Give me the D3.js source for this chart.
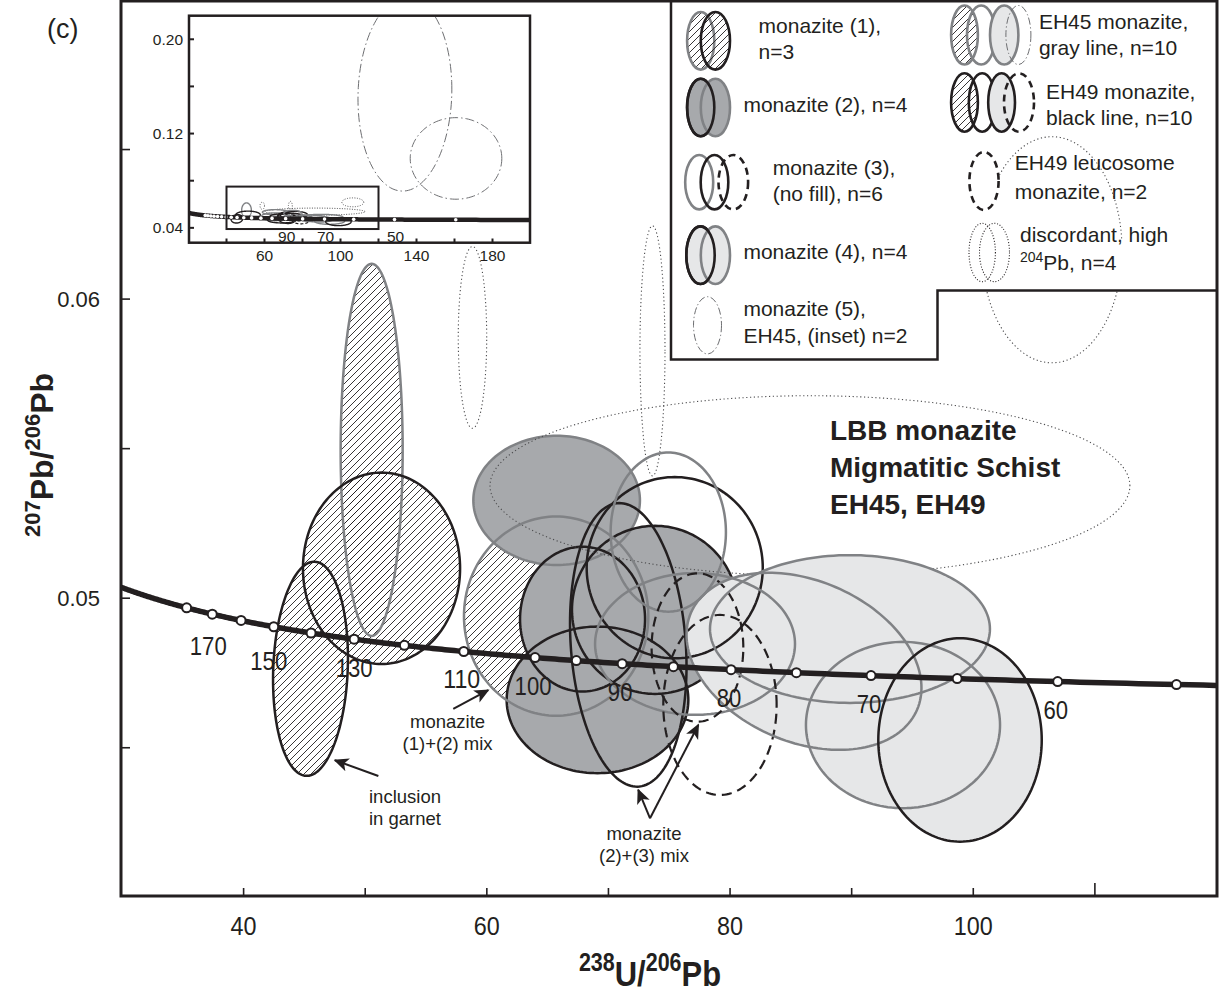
<!DOCTYPE html>
<html>
<head>
<meta charset="utf-8">
<script src="https://cdn.jsdelivr.net/npm/d3@7"></script>
<style>
  body { margin: 0; background: #fff; }
  svg { display: block; }
  text { font-family: "Liberation Sans", Arial, Helvetica, sans-serif; fill: #231f20; }
</style>
</head>
<body>
<svg id="chart" width="1219" height="993"></svg>
<script>
// ---- decay constants for the Tera-Wasserburg concordia ----
const LAMBDA238 = 1.55125e-4;   // per Ma
const LAMBDA235 = 9.8485e-4;    // per Ma
const U_RATIO = 137.88;         // 238U/235U

// ---- concordia age marks (Ma) ----
const concordiaAges = [180, 170, 160, 150, 140, 130, 120, 110, 100, 95, 90, 85, 80, 75, 70, 65, 60, 55];
const ageLabels = [170, 150, 130, 110, 100, 90, 80, 70, 60];
const insetAges = [40, 50, 60, 70, 80, 90, 100, 110, 120, 130, 140, 150, 160, 170, 180, 190, 200, 210, 220];
const insetAgeLabels = [90, 70, 50];

// ---- axis ticks ----
const xTicks = [40, 50, 60, 70, 80, 90, 100, 110];
const xTickLabels = [40, 60, 80, 100];
const yTicks = [0.045, 0.05, 0.055, 0.06, 0.065];
const yTickLabels = [0.05, 0.06];
const insetXTicks = [40, 60, 80, 100, 120, 140, 160, 180];
const insetXTickLabels = [60, 100, 140, 180];
const insetYTicks = [0.04, 0.08, 0.12, 0.16, 0.20];
const insetYTickLabels = [0.04, 0.12, 0.20];

// ---- error ellipses: centre (x = 238U/206Pb, y = 207Pb/206Pb), half-extents, correlation ----
const monazite1 = [
  { sample: "EH45", x: 50.53, y: 0.05496, ex: 2.55, ey: 0.00622, rho: 0 },
  { sample: "EH49", x: 51.34, y: 0.05100, ex: 6.46, ey: 0.00320, rho: 0 },
  { sample: "EH49", x: 45.50, y: 0.04764, ex: 3.08, ey: 0.00358, rho: 0.1 }
];
const mix12 = [
  { sample: "EH45", x: 65.70, y: 0.04940, ex: 7.58, ey: 0.00333, rho: 0 }
];
const monazite2 = [
  { sample: "EH45", x: 65.74, y: 0.05327, ex: 6.85, ey: 0.00216, rho: 0 },
  { sample: "EH49", x: 67.87, y: 0.04930, ex: 5.14, ey: 0.00242, rho: 0 },
  { sample: "EH49", x: 69.10, y: 0.04660, ex: 7.47, ey: 0.00245, rho: 0 },
  { sample: "EH49", x: 73.83, y: 0.04961, ex: 6.83, ey: 0.00281, rho: 0 }
];
const monazite3 = [
  { sample: "EH49", x: 71.63, y: 0.04844, ex: 4.79, ey: 0.00474, rho: -0.15 },
  { sample: "EH49", x: 75.45, y: 0.05102, ex: 7.24, ey: 0.00303, rho: 0 },
  { sample: "EH45", x: 74.92, y: 0.05221, ex: 4.74, ey: 0.00266, rho: 0 },
  { sample: "EH45", x: 77.12, y: 0.04847, ex: 8.22, ey: 0.00237, rho: 0 }
];
const leucosome = [
  { sample: "EH49", x: 77.32, y: 0.04835, ex: 3.77, ey: 0.00248, rho: 0 },
  { sample: "EH49", x: 79.17, y: 0.04643, ex: 4.66, ey: 0.00301, rho: 0 }
];
const monazite4 = [
  { sample: "EH45", x: 89.86, y: 0.04897, ex: 11.51, ey: 0.00247, rho: 0 },
  { sample: "EH45", x: 86.08, y: 0.04789, ex: 9.66, ey: 0.00296, rho: -0.3 },
  { sample: "EH45", x: 94.22, y: 0.04576, ex: 7.98, ey: 0.00278, rho: 0 },
  { sample: "EH49", x: 98.91, y: 0.04526, ex: 6.72, ey: 0.00340, rho: 0 }
];
const monazite5 = [
  { sample: "EH45", x: 133.9, y: 0.1536, ex: 24.7, ey: 0.0824, rho: 0.05 },
  { sample: "EH45", x: 160.8, y: 0.0989, ex: 24.1, ey: 0.0346, rho: 0 }
];
const discordant = [
  { sample: "EH49", x: 58.82, y: 0.05872, ex: 1.17, ey: 0.00304, rho: 0 },
  { sample: "EH49", x: 73.62, y: 0.05827, ex: 1.03, ey: 0.00418, rho: 0 },
  { sample: "EH45", x: 86.57, y: 0.05376, ex: 26.31, ey: 0.00301, rho: 0 },
  { sample: "EH45", x: 106.47, y: 0.06165, ex: 5.76, ey: 0.00378, rho: 0 }
];

// ---- palette ----
const BLACK = "#231f20";
const STROKE = { EH45: "#808285", EH49: BLACK };
const DARK_FILL = "#a7a9ac";
const LIGHT_FILL = "#e6e7e8";

const svg = d3.select("#chart");
const defs = svg.append("defs");

defs.append("pattern")
  .attr("id", "hatch").attr("patternUnits", "userSpaceOnUse")
  .attr("width", 7).attr("height", 7)
  .append("path")
  .attr("d", "M-1,1 L1,-1 M0,7 L7,0 M6,8 L8,6")
  .attr("stroke", BLACK).attr("stroke-width", 0.9);

defs.append("clipPath").attr("id", "plotClip")
  .append("rect").attr("x", 122).attr("y", 1).attr("width", 1094).attr("height", 894);

defs.append("marker").attr("id", "arrowHead")
  .attr("viewBox", "0 0 10 10").attr("refX", 9).attr("refY", 5)
  .attr("markerWidth", 15).attr("markerHeight", 15).attr("markerUnits", "userSpaceOnUse")
  .attr("orient", "auto")
  .append("path").attr("d", "M0,0.5 L10,5 L0,9.5 L2.5,5 Z").attr("fill", BLACK);

// ---- main scales ----
const x = d3.scaleLinear().domain([30, 120]).range([122, 1216.5]);
const y = d3.scaleLinear().domain([0.04, 0.07]).range([897.3, 0]);

function concordia(t) {
  const a = Math.expm1(LAMBDA238 * t);
  const b = Math.expm1(LAMBDA235 * t);
  return [1 / a, b / a / U_RATIO];
}

function ellipsePath(e, sx, sy) {
  const pts = [];
  const s = Math.sqrt(1 - e.rho * e.rho);
  const n = 160;
  for (let i = 0; i < n; i++) {
    const t = (i / n) * 2 * Math.PI;
    pts.push([sx(e.x + e.ex * Math.cos(t)), sy(e.y + e.ey * (e.rho * Math.cos(t) + s * Math.sin(t)))]);
  }
  return d3.line().curve(d3.curveLinearClosed)(pts);
}

const plot = svg.append("g").attr("clip-path", "url(#plotClip)");

function drawEllipses(g, data, opts) {
  return g.selectAll(null).data(data).join("path")
    .attr("d", d => ellipsePath(d, opts.sx || x, opts.sy || y))
    .attr("fill", opts.fill || "none")
    .attr("stroke", opts.stroke === false ? "none" : (d => opts.strokeColor || STROKE[d.sample]))
    .attr("stroke-width", opts.width || 2.5)
    .attr("stroke-dasharray", opts.dash || null);
}

// 1. hatched fills
drawEllipses(plot, mix12, { fill: "url(#hatch)", stroke: false });
drawEllipses(plot, monazite1, { fill: "url(#hatch)", stroke: false });
// 2. dark grey fills and outlines
drawEllipses(plot, monazite2, { fill: DARK_FILL, stroke: false });
drawEllipses(plot, monazite2, {});
// 3. discordant analyses (dotted)
drawEllipses(plot, discordant, { strokeColor: "#4d4d4f", width: 1.1, dash: "1.2,2.6" });
// 4. light grey fills
drawEllipses(plot, monazite4, { fill: LIGHT_FILL, stroke: false });
// 5. outlines on top
drawEllipses(plot, mix12, {});
drawEllipses(plot, monazite1, {});
drawEllipses(plot, monazite3, {});
drawEllipses(plot, leucosome, { width: 2.2, dash: "10,6" });
drawEllipses(plot, monazite4, {});

// 6. concordia with age marks
const curvePts = d3.range(45, 260, 0.5).map(concordia);
plot.append("path")
  .attr("d", d3.line().x(d => x(d[0])).y(d => y(d[1]))(curvePts))
  .attr("fill", "none").attr("stroke", BLACK).attr("stroke-width", 5.5).attr("stroke-linejoin", "round");

plot.selectAll(null).data(concordiaAges).join("circle")
  .attr("cx", t => x(concordia(t)[0])).attr("cy", t => y(concordia(t)[1]))
  .attr("r", 4.5).attr("fill", "#fff").attr("stroke", BLACK).attr("stroke-width", 2);

// narrow numerals, as in the age labels of the concordia
const ageLabelShift = { 170: [-4, 41], 150: [-5, 43], 130: [0, 38] };
plot.selectAll(null).data(ageLabels).join("text")
  .attr("x", t => x(concordia(t)[0]) + (ageLabelShift[t] ? ageLabelShift[t][0] : -2))
  .attr("y", t => y(concordia(t)[1]) + (ageLabelShift[t] ? ageLabelShift[t][1] : 37))
  .attr("text-anchor", "middle").attr("font-size", 25)
  .attr("textLength", t => String(t).length * 12.3).attr("lengthAdjust", "spacingAndGlyphs")
  .text(t => t);

// 7. sample title and annotations
const titleLines = ["LBB monazite", "Migmatitic Schist", "EH45, EH49"];
svg.append("g").selectAll(null).data(titleLines).join("text")
  .attr("x", x(88.22)).attr("y", (d, i) => y(0.055294) + i * 37)
  .attr("font-size", 28).attr("font-weight", "bold")
  .text(d => d);

const notes = [
  { lines: ["monazite", "(1)+(2) mix"], x: 56.77, y: 0.045662 },
  { lines: ["inclusion", "in garnet"], x: 53.27, y: 0.043154 },
  { lines: ["monazite", "(2)+(3) mix"], x: 72.92, y: 0.041916 }
];
notes.forEach(n => {
  svg.append("g").selectAll(null).data(n.lines).join("text")
    .attr("x", x(n.x)).attr("y", (d, i) => y(n.y) + i * 22)
    .attr("text-anchor", "middle").attr("font-size", 18.5)
    .text(d => d);
});

const arrows = [
  { from: [57.24, 0.046298], to: [60.11, 0.046926] },
  { from: [51.08, 0.044057], to: [47.51, 0.044582] },
  { from: [73.42, 0.042642], to: [72.45, 0.043589] },
  { from: [73.42, 0.042642], to: [77.39, 0.045763] }
];
svg.append("g").selectAll(null).data(arrows).join("line")
  .attr("x1", d => x(d.from[0])).attr("y1", d => y(d.from[1]))
  .attr("x2", d => x(d.to[0])).attr("y2", d => y(d.to[1]))
  .attr("stroke", BLACK).attr("stroke-width", 2)
  .attr("marker-end", "url(#arrowHead)");

// ---- inset: full data range ----
const inset = svg.append("g");
const ix = d3.scaleLinear().domain([20, 200]).range([188.5, 530.5]);
const iy = d3.scaleLinear().domain([0.0274, 0.22]).range([242.7, 15.7]);
inset.append("rect").attr("x", 189).attr("y", 15.7).attr("width", 341).attr("height", 227)
  .attr("fill", "#fff");
defs.append("clipPath").attr("id", "insetClip")
  .append("rect").attr("x", 189).attr("y", 15.7).attr("width", 341).attr("height", 227);
const insetPlot = inset.append("g").attr("clip-path", "url(#insetClip)");

const io = { sx: ix, sy: iy, width: 1.4 };
drawEllipses(insetPlot, monazite5, { sx: ix, sy: iy, width: 1, strokeColor: "#6d6e71", dash: "9,3,1.5,3" });
drawEllipses(insetPlot, discordant, { sx: ix, sy: iy, width: 1, strokeColor: "#4d4d4f", dash: "1,1.5" });
drawEllipses(insetPlot, monazite1, io);
drawEllipses(insetPlot, mix12, io);
drawEllipses(insetPlot, monazite2, io);
drawEllipses(insetPlot, monazite3, io);
drawEllipses(insetPlot, leucosome, { sx: ix, sy: iy, width: 1.2, dash: "3,2" });
drawEllipses(insetPlot, monazite4, io);

const insetCurve = d3.range(30, 330, 0.5).map(concordia);
insetPlot.append("path")
  .attr("d", d3.line().x(d => ix(d[0])).y(d => iy(d[1]))(insetCurve))
  .attr("fill", "none").attr("stroke", BLACK).attr("stroke-width", 4.5);
insetPlot.selectAll(null).data(insetAges).join("circle")
  .attr("cx", t => ix(concordia(t)[0])).attr("cy", t => iy(concordia(t)[1]))
  .attr("r", 1.8).attr("fill", "#fff");

// zoom window of the main panel
inset.append("rect")
  .attr("x", ix(40)).attr("y", iy(0.075))
  .attr("width", ix(120) - ix(40)).attr("height", iy(0.039) - iy(0.075))
  .attr("fill", "none").attr("stroke", BLACK).attr("stroke-width", 2);

inset.selectAll(null).data(insetAgeLabels).join("text")
  .attr("x", t => ix(concordia(t)[0]) + 1).attr("y", 242)
  .attr("text-anchor", "middle").attr("font-size", 15.5)
  .text(t => t);

inset.append("rect").attr("x", 189).attr("y", 15.7).attr("width", 341).attr("height", 227)
  .attr("fill", "none").attr("stroke", BLACK).attr("stroke-width", 2.5);

inset.selectAll(null).data(insetYTicks).join("line")
  .attr("x1", 189).attr("x2", 194).attr("y1", d => iy(d)).attr("y2", d => iy(d))
  .attr("stroke", BLACK).attr("stroke-width", 2);
inset.selectAll(null).data(insetYTickLabels).join("text")
  .attr("x", 183).attr("y", d => iy(d) + 5.5)
  .attr("text-anchor", "end").attr("font-size", 15.5)
  .text(d => d.toFixed(2));
inset.selectAll(null).data(insetXTicks).join("line")
  .attr("x1", d => ix(d)).attr("x2", d => ix(d)).attr("y1", 242.7).attr("y2", 238.5)
  .attr("stroke", BLACK).attr("stroke-width", 2);
inset.selectAll(null).data(insetXTickLabels).join("text")
  .attr("x", d => ix(d)).attr("y", 261)
  .attr("text-anchor", "middle").attr("font-size", 15.5)
  .text(d => d);

// ---- legend ----
const legend = svg.append("g");
legend.append("path")
  .attr("d", "M671,0 V359.5 H937.5 V290.5 H1217")
  .attr("fill", "#fff").attr("stroke", BLACK).attr("stroke-width", 2.5);

function icon(cx, cy, rx, ry, style) {
  legend.append("ellipse")
    .attr("cx", cx).attr("cy", cy).attr("rx", rx).attr("ry", ry)
    .attr("fill", style.fill || "none")
    .attr("stroke", style.stroke).attr("stroke-width", style.width || 2.6)
    .attr("stroke-dasharray", style.dash || null);
}
const G = STROKE.EH45, K = STROKE.EH49;
const dashD = "7,5", dotD = "1,1.8", dashDot = "7,2.5,1.3,2.5";

icon(700.7, 40.8, 13.6, 28.8, { fill: "url(#hatch)", stroke: G });
icon(715.4, 40.8, 14.6, 28.8, { fill: "url(#hatch)", stroke: K });

icon(700.7, 107.5, 13.6, 28.8, { fill: DARK_FILL, stroke: K });
icon(715.4, 107.5, 14.6, 28.8, { fill: DARK_FILL, stroke: G });
icon(700.7, 107.5, 13.6, 28.8, { stroke: K });

icon(699.2, 182.2, 14, 27.2, { stroke: G });
icon(714.5, 182.2, 13.8, 27.2, { stroke: K });
icon(733.3, 182.2, 14.8, 27.2, { stroke: K, dash: dashD });

icon(700.5, 255.2, 14.2, 28.8, { fill: LIGHT_FILL, stroke: K });
icon(715.4, 255.2, 14.6, 28.8, { fill: LIGHT_FILL, stroke: G });
icon(700.5, 255.2, 14.2, 28.8, { stroke: K });

icon(707.5, 325.3, 14, 28.6, { stroke: "#6d6e71", width: 1, dash: dashDot });

icon(964.5, 35, 13.4, 29.5, { fill: "url(#hatch)", stroke: G });
icon(981.2, 35, 14.2, 29.5, { stroke: G });
icon(1004.2, 35, 14.2, 29.5, { fill: LIGHT_FILL, stroke: G });
icon(1018.4, 35, 12.5, 29.5, { stroke: "#6d6e71", width: 1, dash: dashDot });

icon(964.5, 102.5, 13.4, 29.2, { fill: "url(#hatch)", stroke: K });
icon(982.2, 102.5, 13.4, 29.2, { stroke: K });
icon(1001.6, 102.5, 13.4, 29.2, { fill: LIGHT_FILL, stroke: K });
icon(1019, 102.5, 15, 29.2, { stroke: K, dash: dashD });

icon(984, 181, 14.6, 29, { stroke: K, dash: dashD });

icon(982.2, 252.5, 13.2, 29.2, { stroke: BLACK, width: 1.1, dash: dotD });
icon(994.5, 252.5, 15, 29.2, { stroke: BLACK, width: 1.1, dash: dotD });

const legendText = [
  { x: 758.6, y: 33.3, t: "monazite (1)," },
  { x: 758.6, y: 59.3, t: "n=3" },
  { x: 743.4, y: 111.7, t: "monazite (2), n=4" },
  { x: 772.7, y: 175, t: "monazite (3)," },
  { x: 772.7, y: 200.7, t: "(no fill), n=6" },
  { x: 743.4, y: 259.3, t: "monazite (4), n=4" },
  { x: 743.4, y: 315.7, t: "monazite (5)," },
  { x: 743.4, y: 342.7, t: "EH45, (inset) n=2" },
  { x: 1038.9, y: 29.3, t: "EH45 monazite," },
  { x: 1038.9, y: 55, t: "gray line, n=10" },
  { x: 1046, y: 99, t: "EH49 monazite," },
  { x: 1046, y: 124.5, t: "black line, n=10" },
  { x: 1014.8, y: 170, t: "EH49 leucosome" },
  { x: 1014.8, y: 199.3, t: "monazite, n=2" },
  { x: 1020, y: 241.7, t: "discordant, high" }
];
legend.selectAll(null).data(legendText).join("text")
  .attr("x", d => d.x).attr("y", d => d.y).attr("font-size", 21)
  .text(d => d.t);
const pbLine = legend.append("text").attr("x", 1020).attr("y", 270).attr("font-size", 21);
pbLine.append("tspan").attr("font-size", 14).attr("dy", -8).text("204");
pbLine.append("tspan").attr("dy", 8).text("Pb, n=4");

// ---- axes frame, ticks and titles ----
const axes = svg.append("g");
axes.append("path")
  .attr("d", "M121,1 H1217 V896 H121 Z")
  .attr("fill", "none").attr("stroke", BLACK).attr("stroke-width", 3);

axes.selectAll(null).data(xTicks).join("line")
  .attr("x1", d => x(d)).attr("x2", d => x(d))
  .attr("y1", 896).attr("y2", d => d === 110 ? 883 : 888)
  .attr("stroke", BLACK).attr("stroke-width", 1.6);
axes.selectAll(null).data(xTickLabels).join("text")
  .attr("x", d => x(d)).attr("y", 935)
  .attr("text-anchor", "middle").attr("font-size", 25)
  .attr("textLength", d => String(d).length * 13).attr("lengthAdjust", "spacingAndGlyphs")
  .text(d => d);

axes.selectAll(null).data(yTicks).join("line")
  .attr("x1", 121).attr("x2", 130)
  .attr("y1", d => y(d)).attr("y2", d => y(d))
  .attr("stroke", BLACK).attr("stroke-width", 1.6);
axes.selectAll(null).data(yTickLabels).join("text")
  .attr("x", 100).attr("y", d => y(d) + 8)
  .attr("text-anchor", "end").attr("font-size", 22)
  .text(d => d.toFixed(2));

const xTitle = axes.append("text")
  .attr("transform", "translate(650,986) scale(0.86,1)")
  .attr("text-anchor", "middle").attr("font-size", 36).attr("font-weight", "bold");
xTitle.append("tspan").attr("font-size", 25).attr("dy", -15).text("238");
xTitle.append("tspan").attr("dy", 15).text("U/");
xTitle.append("tspan").attr("font-size", 25).attr("dy", -15).text("206");
xTitle.append("tspan").attr("dy", 15).text("Pb");

const yTitle = axes.append("text")
  .attr("transform", "translate(53,455) rotate(-90)")
  .attr("text-anchor", "middle").attr("font-size", 32).attr("font-weight", "bold");
yTitle.append("tspan").attr("font-size", 22).attr("dy", -13).text("207");
yTitle.append("tspan").attr("dy", 13).text("Pb/");
yTitle.append("tspan").attr("font-size", 22).attr("dy", -13).text("206");
yTitle.append("tspan").attr("dy", 13).text("Pb");

svg.append("text").attr("x", 47).attr("y", 38).attr("font-size", 27).text("(c)");
</script>
</body>
</html>
